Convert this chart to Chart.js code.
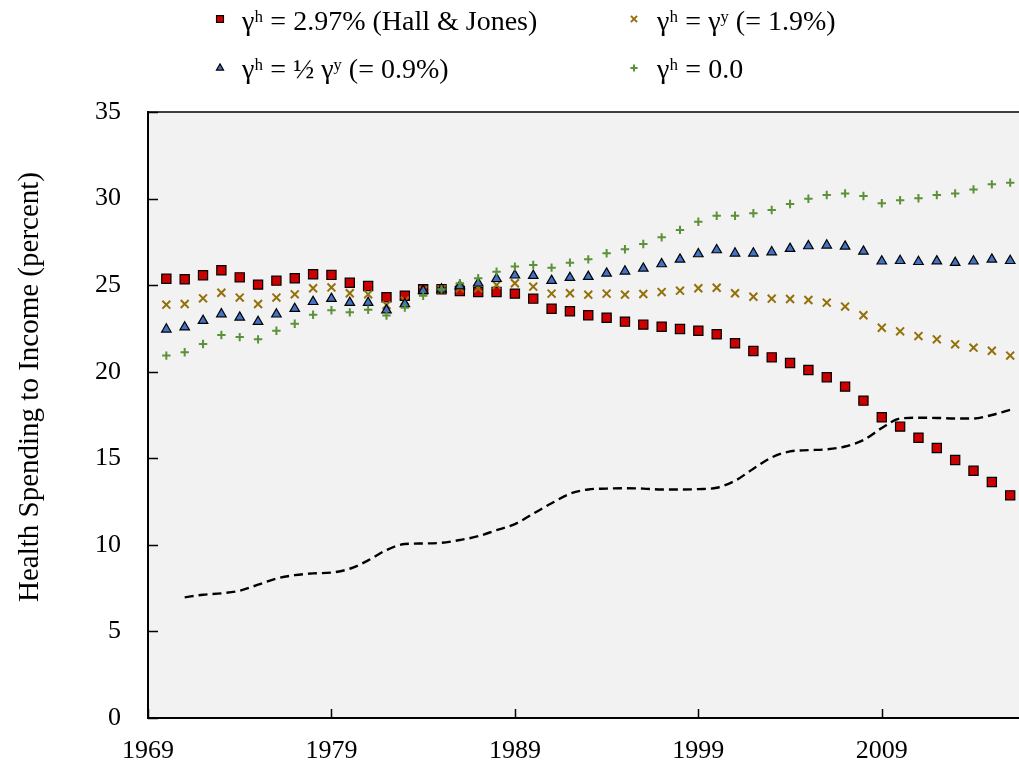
<!DOCTYPE html>
<html>
<head>
<meta charset="utf-8">
<script src="https://cdn.jsdelivr.net/npm/chart.js@4/dist/chart.umd.min.js"></script>
<style>
  html, body { margin: 0; padding: 0; background: #ffffff; overflow: hidden; }
  #wrap { width: 1019px; height: 767px; position: relative; }
</style>
</head>
<body>
<div id="wrap"><canvas id="chart" width="1019" height="767"></canvas></div>
<script>
// Years of the simulated paths
const years = [1970, 1971, 1972, 1973, 1974, 1975, 1976, 1977, 1978, 1979,
               1980, 1981, 1982, 1983, 1984, 1985, 1986, 1987, 1988, 1989,
               1990, 1991, 1992, 1993, 1994, 1995, 1996, 1997, 1998, 1999,
               2000, 2001, 2002, 2003, 2004, 2005, 2006, 2007, 2008, 2009,
               2010, 2011, 2012, 2013, 2014, 2015, 2016];

// gamma_h = 2.97% (Hall & Jones)
const hallJones = [25.37, 25.34, 25.57, 25.86, 25.45, 25.03, 25.26, 25.40, 25.63, 25.59,
                   25.14, 24.95, 24.30, 24.39, 24.76, 24.76, 24.66, 24.60, 24.60, 24.51,
                   24.22, 23.64, 23.49, 23.26, 23.12, 22.89, 22.72, 22.60, 22.47, 22.37,
                   22.16, 21.64, 21.20, 20.83, 20.50, 20.10, 19.68, 19.14, 18.33, 17.37,
                   16.83, 16.19, 15.59, 14.90, 14.28, 13.63, 12.86];

// gamma_h = gamma_y (= 1.9%)
const equalGrowth = [23.87, 23.91, 24.24, 24.56, 24.28, 23.91, 24.28, 24.47, 24.82, 24.87,
                     24.53, 24.47, 23.85, 24.10, 24.70, 24.76, 24.82, 24.82, 25.01, 25.11,
                     24.91, 24.51, 24.53, 24.45, 24.51, 24.45, 24.49, 24.60, 24.68, 24.82,
                     24.85, 24.53, 24.33, 24.22, 24.20, 24.14, 23.99, 23.76, 23.26, 22.54,
                     22.33, 22.06, 21.87, 21.58, 21.39, 21.21, 20.93];

// gamma_h = 1/2 gamma_y (= 0.9%)
const halfGrowth = [22.45, 22.57, 22.95, 23.33, 23.14, 22.89, 23.32, 23.64, 24.04, 24.22,
                    23.99, 23.99, 23.56, 23.91, 24.68, 24.76, 24.95, 25.11, 25.37, 25.57,
                    25.55, 25.26, 25.43, 25.49, 25.68, 25.80, 25.97, 26.22, 26.49, 26.80,
                    27.03, 26.84, 26.84, 26.91, 27.11, 27.26, 27.30, 27.24, 26.95, 26.38,
                    26.41, 26.35, 26.39, 26.30, 26.38, 26.49, 26.41];

// gamma_h = 0.0
const zeroGrowth = [20.93, 21.12, 21.60, 22.12, 22.00, 21.87, 22.37, 22.77, 23.29, 23.55,
                    23.43, 23.58, 23.24, 23.70, 24.39, 24.76, 25.11, 25.40, 25.78, 26.07,
                    26.16, 26.01, 26.30, 26.49, 26.84, 27.07, 27.38, 27.76, 28.19, 28.66,
                    29.01, 29.01, 29.15, 29.34, 29.69, 29.99, 30.21, 30.30, 30.15, 29.73,
                    29.90, 30.02, 30.21, 30.30, 30.53, 30.82, 30.92];

// Observed health spending share (dashed line)
const observedYears = [1971, 1972, 1973, 1974, 1975, 1976, 1977, 1978, 1979, 1980,
                       1981, 1982, 1983, 1984, 1985, 1986, 1987, 1988, 1989, 1990,
                       1991, 1992, 1993, 1994, 1995, 1996, 1997, 1998, 1999, 2000,
                       2001, 2002, 2003, 2004, 2005, 2006, 2007, 2008, 2009, 2010,
                       2011, 2012, 2013, 2014, 2015, 2016];
const observedShare = [6.97, 7.12, 7.20, 7.35, 7.70, 8.05, 8.25, 8.35, 8.40, 8.62,
                       9.10, 9.70, 10.05, 10.08, 10.12, 10.28, 10.50, 10.85, 11.20, 11.80,
                       12.40, 12.95, 13.20, 13.25, 13.27, 13.25, 13.20, 13.20, 13.22, 13.30,
                       13.70, 14.40, 15.05, 15.40, 15.47, 15.52, 15.68, 16.05, 16.75, 17.30,
                       17.34, 17.33, 17.30, 17.30, 17.50, 17.80];

const xTickYears = [1969, 1979, 1989, 1999, 2009];
const yTickValues = [0, 5, 10, 15, 20, 25, 30, 35];

const seriesLabels = [
  'γʰ = 2.97% (Hall & Jones)',
  'γʰ = γʸ (= 1.9%)',
  'γʰ = ½ γʸ (= 0.9%)',
  'γʰ = 0.0'
];
const yTitle = 'Health Spending to Income (percent)';

const SERIF = "'Liberation Serif', 'DejaVu Serif', serif";

const pairs = (xs, ys) => xs.map((x, i) => ({ x: x, y: ys[i] }));

// Background panel, inward tick marks, top rule, axis title and legend
const decorations = {
  id: 'decorations',
  beforeDraw(chart) {
    const { ctx, chartArea: a } = chart;
    ctx.save();
    ctx.fillStyle = '#f2f2f2';
    ctx.fillRect(a.left, a.top, chart.width - a.left, a.bottom - a.top);
    ctx.restore();
  },
  afterDraw(chart) {
    const { ctx, chartArea: a, scales } = chart;
    ctx.save();
    // top rule
    ctx.strokeStyle = '#000';
    ctx.lineWidth = 1.6;
    ctx.beginPath();
    ctx.moveTo(a.left, a.top);
    ctx.lineTo(chart.width, a.top);
    ctx.stroke();
    // inward ticks
    ctx.lineWidth = 1.5;
    ctx.beginPath();
    scales.y.ticks.forEach(t => {
      const py = Math.round(scales.y.getPixelForValue(t.value)) + 0.5;
      ctx.moveTo(a.left, py);
      ctx.lineTo(a.left + 10, py);
    });
    scales.x.ticks.forEach(t => {
      const px = Math.round(scales.x.getPixelForValue(t.value)) + 0.5;
      ctx.moveTo(px, a.bottom);
      ctx.lineTo(px, a.bottom - 9);
    });
    ctx.stroke();

    // y-axis title
    ctx.fillStyle = '#000';
    ctx.font = '29px ' + SERIF;
    ctx.textAlign = 'center';
    ctx.textBaseline = 'middle';
    ctx.translate(30, 387);
    ctx.rotate(-Math.PI / 2);
    ctx.fillText(yTitle, 0, 0);
    ctx.restore();

    // legend, two columns
    ctx.save();
    const slots = [
      { mx: 220, my: 19, tx: 242, ty: 30, r: 4.9 },
      { mx: 634, my: 19, tx: 657, ty: 30, r: 4.4 },
      { mx: 220, my: 68, tx: 242, ty: 78, r: 4.1 },
      { mx: 634, my: 68, tx: 657, ty: 78, r: 3.6 }
    ];
    ctx.font = '28px ' + SERIF;
    ctx.textAlign = 'left';
    ctx.textBaseline = 'alphabetic';
    slots.forEach((s, i) => {
      const ds = chart.data.datasets[i];
      ctx.save();
      ctx.fillStyle = ds.pointBackgroundColor;
      ctx.strokeStyle = ds.pointBorderColor;
      ctx.lineWidth = ds.pointBorderWidth;
      Chart.helpers.drawPoint(ctx, {
        pointStyle: ds.pointStyle, radius: s.r, rotation: 0,
        borderWidth: ds.pointBorderWidth
      }, s.mx, s.my);
      ctx.restore();
      ctx.fillStyle = '#000';
      ctx.fillText(seriesLabels[i], s.tx, s.ty);
    });
    ctx.restore();
  }
};

new Chart(document.getElementById('chart'), {
  type: 'line',
  data: {
    datasets: [
      {
        label: seriesLabels[0], data: pairs(years, hallJones), showLine: false,
        pointStyle: 'rect', pointRadius: 6.5, pointBackgroundColor: '#cc0000',
        pointBorderColor: '#000000', pointBorderWidth: 1.2, order: 4
      },
      {
        label: seriesLabels[1], data: pairs(years, equalGrowth), showLine: false,
        pointStyle: 'crossRot', pointRadius: 5.6, pointBackgroundColor: '#94700a',
        pointBorderColor: '#94700a', pointBorderWidth: 2, order: 3
      },
      {
        label: seriesLabels[2], data: pairs(years, halfGrowth), showLine: false,
        pointStyle: 'triangle', pointRadius: 5.5, pointBackgroundColor: '#4472c4',
        pointBorderColor: '#000000', pointBorderWidth: 1.2, order: 2
      },
      {
        label: seriesLabels[3], data: pairs(years, zeroGrowth), showLine: false,
        pointStyle: 'cross', pointRadius: 4.2, pointBackgroundColor: '#5b9138',
        pointBorderColor: '#5b9138', pointBorderWidth: 2, order: 1
      },
      {
        label: 'Observed', data: pairs(observedYears, observedShare),
        borderColor: '#000000', borderWidth: 2.4, borderDash: [9, 5],
        pointRadius: 0, cubicInterpolationMode: 'monotone', fill: false, order: 5
      }
    ]
  },
  options: {
    responsive: false,
    animation: false,
    devicePixelRatio: 1,
    layout: { autoPadding: false, padding: { top: 112, right: 0, bottom: 0, left: 0 } },
    plugins: { legend: { display: false }, tooltip: { enabled: false } },
    scales: {
      x: {
        type: 'linear', min: 1969, max: 2016.48,
        afterBuildTicks: s => { s.ticks = xTickYears.map(v => ({ value: v })); },
        afterFit: s => { s.height = 49; s.paddingLeft = 0; s.paddingRight = 0; },
        ticks: {
          callback: v => String(v), color: '#000', padding: 18,
          font: { family: SERIF, size: 26 }, maxRotation: 0, autoSkip: false
        },
        grid: { display: false, drawTicks: false },
        border: { display: true, color: '#000', width: 2 }
      },
      y: {
        min: 0, max: 35,
        afterBuildTicks: s => { s.ticks = yTickValues.map(v => ({ value: v })); },
        afterFit: s => { s.width = 148; },
        ticks: {
          callback: v => String(v), color: '#000', padding: 27,
          font: { family: SERIF, size: 26 }
        },
        grid: { display: false, drawTicks: false },
        border: { display: true, color: '#000', width: 2 }
      }
    }
  },
  plugins: [decorations]
});
</script>
</body>
</html>
